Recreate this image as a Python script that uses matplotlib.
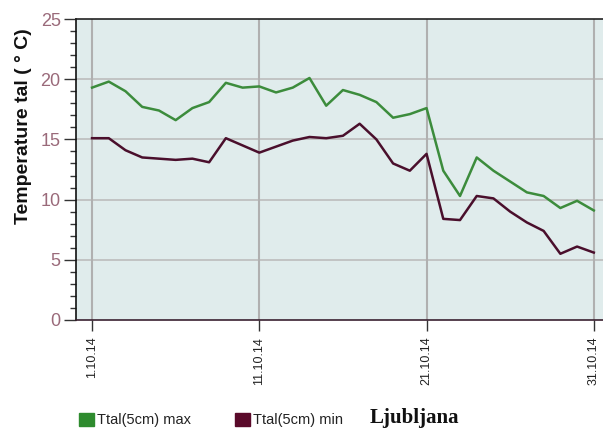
import numpy as np
import matplotlib.pyplot as plt
from matplotlib.patches import Rectangle

plt.rcParams['font.family'] = ['Liberation Sans', 'DejaVu Sans']

days = list(range(1, 32))
t_max = [19.3, 19.8, 19.0, 17.7, 17.4, 16.6, 17.6, 18.1, 19.7, 19.3, 19.4,
         18.9, 19.3, 20.1, 17.8, 19.1, 18.7, 18.1, 16.8, 17.1, 17.6,
         12.4, 10.3, 13.5, 12.4, 11.5, 10.6, 10.3, 9.3, 9.9, 9.1]
t_min = [15.1, 15.1, 14.1, 13.5, 13.4, 13.3, 13.4, 13.1, 15.1, 14.5, 13.9,
         14.4, 14.9, 15.2, 15.1, 15.3, 16.3, 15.0, 13.0, 12.4, 13.8,
         8.4, 8.3, 10.3, 10.1, 9.0, 8.1, 7.4, 5.5, 6.1, 5.6]
tick_days = [1, 11, 21, 31]
tick_labels = ['1.10.14', '11.10.14', '21.10.14', '31.10.14']
series_names = ['Ttal(5cm) max', 'Ttal(5cm) min']
station = 'Ljubljana'

green = '#3c8c3c'
maroon = '#4a0f2c'

fig = plt.figure(figsize=(6.03, 4.41), dpi=100)
ax = fig.add_axes([76 / 603, 121 / 441, 527 / 603, 301 / 441])
ax.set_facecolor('#e0ecec')

ax.plot(days, t_max, color=green, lw=1.8, zorder=3)
ax.plot(days, t_min, color=maroon, lw=1.8, zorder=3)

ax.set_xlim(0.04, 31.55)
ax.set_ylim(0, 25)

ax.set_yticks([0, 5, 10, 15, 20, 25])
ax.set_yticks(np.arange(0, 26, 1), minor=True)
ax.set_xticks(tick_days)
ax.set_xticklabels(tick_labels, rotation=90, fontsize=9, color='#222222')
ax.tick_params(axis='y', which='major', length=9, width=1, color='#333333',
               labelsize=13, labelcolor='#9a6a7a', pad=2)
ax.tick_params(axis='y', which='minor', length=4, width=1, color='#333333')
ax.tick_params(axis='x', length=8, width=1, color='#333333', pad=4)

for v in [5, 10, 15, 20]:
    ax.axhline(v, color='#bcbcbc', lw=1.2, zorder=1)
for d in tick_days:
    ax.axvline(d, color='#b0b0b0', lw=1.5, zorder=1)

ax.spines['left'].set_color('#111111')
ax.spines['left'].set_linewidth(1.2)
ax.spines['bottom'].set_color('#3a2030')
ax.spines['bottom'].set_linewidth(1.2)
ax.spines['top'].set_color('#222222')
ax.spines['top'].set_linewidth(1.2)
ax.spines['right'].set_visible(False)

# y label sits higher than the axes centre in the original
fig.text(24 / 603, 315 / 441, 'Temperature tal ( ° C)', fontsize=14, fontweight='bold',
         rotation=90, ha='center', va='center', color='#111111')

# legend row at the bottom
fig.patches.append(Rectangle((79 / 603, 15 / 441), 15 / 603, 13 / 441,
                             transform=fig.transFigure, color='#2e8b2e', figure=fig))
fig.text(97 / 603, 21 / 441, series_names[0], fontsize=10.5, va='center', color='#222222')
fig.patches.append(Rectangle((235 / 603, 15 / 441), 15 / 603, 13 / 441,
                             transform=fig.transFigure, color='#5a0a2a', figure=fig))
fig.text(253 / 603, 21 / 441, series_names[1], fontsize=10.5, va='center', color='#222222')
fig.text(370 / 603, 23 / 441, station, fontsize=15, fontweight='bold',
         family='Liberation Serif', va='center', color='#111111')

fig.savefig('out.png', dpi=100)
